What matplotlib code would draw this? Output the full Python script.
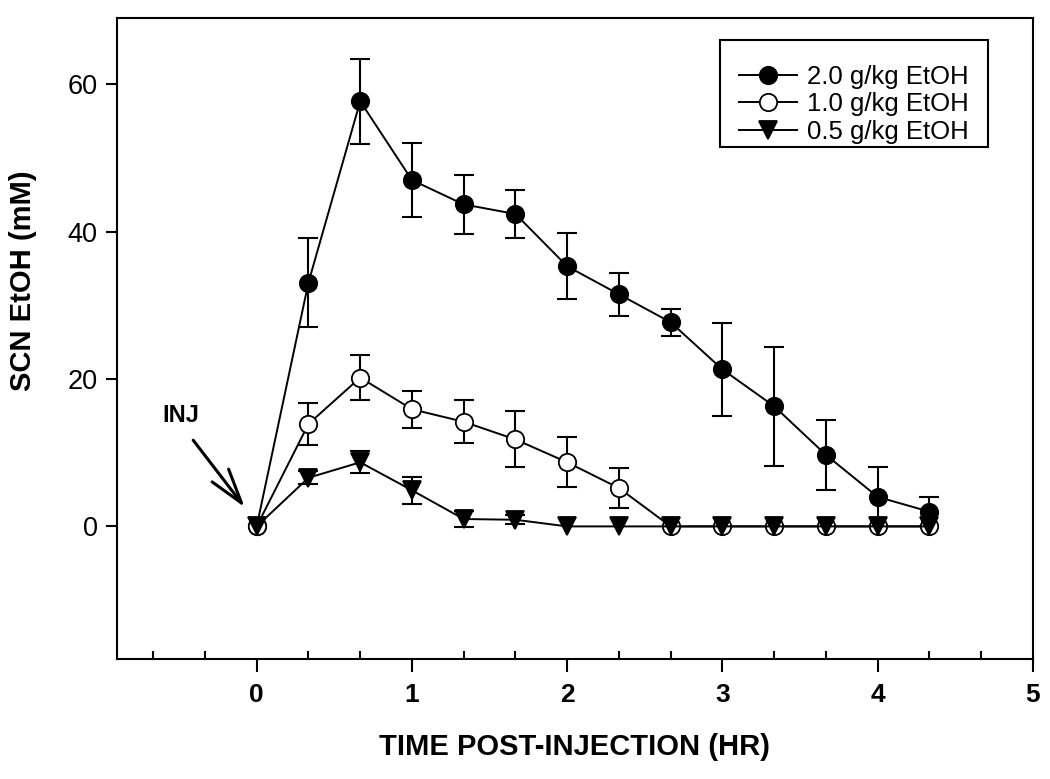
import numpy as np
import matplotlib
matplotlib.use('Agg')
import matplotlib.pyplot as plt
from matplotlib.ticker import MultipleLocator
from matplotlib.patches import Rectangle

plt.rcParams['font.family'] = ['Liberation Sans', 'DejaVu Sans']

# tiempo en minutos despues de la inyeccion
minutos = [0, 20, 40, 60, 80, 100, 120, 140, 160, 180, 200, 220, 240, 260]

# 2.0 g/kg EtOH
dosis_alta = [0, 33.1, 57.7, 47.0, 43.7, 42.4, 35.3, 31.5, 27.7, 21.3, 16.3, 9.7, 4.0, 2.0]
error_alta = [0, 6.0, 5.8, 5.0, 4.0, 3.3, 4.5, 2.9, 1.8, 6.3, 8.1, 4.7, 4.0, 2.0]
# 1.0 g/kg EtOH
dosis_media = [0, 13.9, 20.2, 15.9, 14.2, 11.8, 8.7, 5.2, 0, 0, 0, 0, 0, 0]
error_media = [0, 2.8, 3.0, 2.5, 2.9, 3.8, 3.4, 2.7, 0, 0, 0, 0, 0, 0]
# 0.5 g/kg EtOH
dosis_baja = [0, 6.6, 8.7, 4.9, 1.0, 0.9, 0, 0, 0, 0, 0, 0, 0, 0]
error_baja = [0, 0.9, 1.5, 1.8, 1.1, 0.6, 0, 0, 0, 0, 0, 0, 0, 0]

etiquetas = ['2.0 g/kg EtOH', '1.0 g/kg EtOH', '0.5 g/kg EtOH']

horas = np.array(minutos) / 60.0

figura = plt.figure(figsize=(10.5, 7.79), dpi=100)
lienzo = figura.add_axes([0.1114, 0.154, 0.8724, 0.8229])

series = [
    (dosis_alta, error_alta, 'o', 'black', 12.5),
    (dosis_media, error_media, 'o', 'white', 12.5),
    (dosis_baja, error_baja, 'v', 'black', 12.5),
]

for i, (media, err, marca, relleno, tam) in enumerate(series):
    media = np.array(media)
    err = np.array(err)
    hay = err > 0
    lienzo.errorbar(horas[hay], media[hay], yerr=err[hay], fmt='none',
                    ecolor='black', elinewidth=1.5, capsize=7, capthick=1.5,
                    zorder=2 + i)
    lienzo.plot(horas, media, marker=marca, color='black', lw=1.4,
                markersize=tam, markerfacecolor=relleno,
                markeredgecolor='black', markeredgewidth=1.3,
                label=etiquetas[i], zorder=2.5 + i)

lienzo.set_xlim(-0.9, 5)
lienzo.set_ylim(-18, 69)

lienzo.set_xticks([0, 1, 2, 3, 4, 5])
lienzo.xaxis.set_minor_locator(MultipleLocator(1 / 3))
lienzo.set_yticks([0, 20, 40, 60])

lienzo.tick_params(axis='x', which='major', direction='out', length=9,
                   width=1.5, pad=8, labelsize=19)
lienzo.tick_params(axis='x', which='minor', direction='in', length=6,
                   width=1.5)
lienzo.tick_params(axis='y', which='major', direction='out', length=8,
                   width=1.5, pad=6, labelsize=19.5)
for t in lienzo.get_xticklabels():
    t.set_fontweight('bold')

for lado in lienzo.spines.values():
    lado.set_linewidth(1.5)

lienzo.set_xlabel('TIME POST-INJECTION (HR)', fontsize=21, fontweight='bold')
lienzo.xaxis.set_label_coords(0.5, -0.116)
lienzo.set_ylabel('SCN EtOH (mM)', fontsize=21, fontweight='bold')
lienzo.yaxis.set_label_coords(-0.087, 0.59)

# flecha de inyeccion
lienzo.annotate('', xy=(-0.066, 2.3), xytext=(-0.42, 12.0),
                arrowprops=dict(arrowstyle='->,head_length=1.0,head_width=0.3',
                                lw=2.2, color='black', mutation_scale=25))
lienzo.text(-0.49, 15.0, 'INJ', fontsize=17, fontweight='bold',
            ha='center', va='center')

# leyenda sin marco, el marco se dibuja aparte (mas espacio arriba)
leyenda = lienzo.legend(loc='upper left', bbox_to_anchor=(0.679, 0.927),
                        borderaxespad=0, borderpad=0, fontsize=18.5,
                        frameon=False, handlelength=2.26,
                        labelspacing=0.14, handletextpad=0.39)
marco = Rectangle((0.6583, 0.7988), 0.2926, 0.1669, transform=lienzo.transAxes,
                  fill=False, edgecolor='black', linewidth=1.5, zorder=6)
lienzo.add_patch(marco)

figura.savefig('out.png', dpi=100)
